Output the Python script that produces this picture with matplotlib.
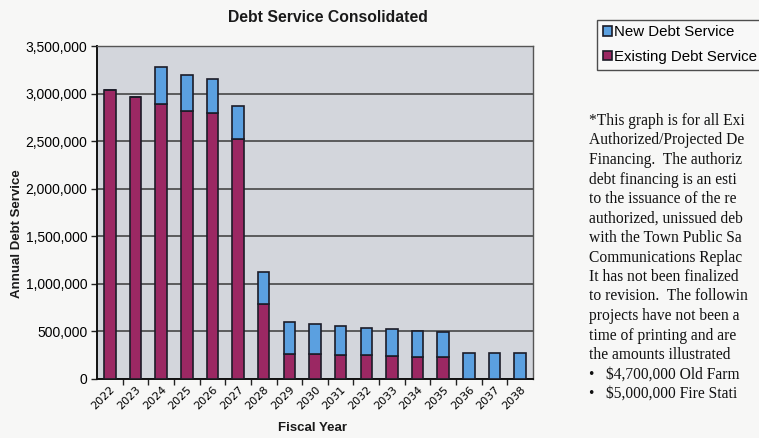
import matplotlib.pyplot as plt
from matplotlib.patches import Patch
from matplotlib.ticker import FuncFormatter

years = [str(y) for y in range(2022, 2039)]
existing = [3040000, 2968000, 2894000, 2820000, 2792000, 2518000, 791000,
            268000, 265000, 254000, 247000, 237000, 226000, 226000, 0, 0, 0]
new_debt = [0, 0, 381000, 374000, 363000, 352000, 331000,
            328000, 313000, 300000, 293000, 286000, 279000, 272000,
            272000, 272000, 270000]

note_lines = [
    "*This graph is for all Exi",
    "Authorized/Projected De",
    "Financing.  The authoriz",
    "debt financing is an esti",
    "to the issuance of the re",
    "authorized, unissued deb",
    "with the Town Public Sa",
    "Communications Replac",
    "It has not been finalized",
    "to revision.  The followin",
    "projects have not been a",
    "time of printing and are",
    "the amounts illustrated",
    "\u2022   $4,700,000 Old Farm",
    "\u2022   $5,000,000 Fire Stati",
]

maroon = "#9b2863"
blue = "#5ba0e0"
edge = "#1c1c28"

W, H = 759, 438
fig = plt.figure(figsize=(W / 100, H / 100), dpi=100, facecolor="#f7f7f6")
ax = fig.add_axes([97 / W, 1 - 379 / H, (533 - 97) / W, (379 - 46) / H])
ax.set_facecolor("#d3d6dc")

x = range(len(years))
ax.bar(x, existing, width=0.45, color=maroon, edgecolor=edge, linewidth=1.2, zorder=3)
ax.bar(x, new_debt, bottom=existing, width=0.45, color=blue, edgecolor=edge,
       linewidth=1.2, zorder=3)

ax.set_xlim(-0.5, len(years) - 0.5)
ax.set_ylim(0, 3500000)
ax.set_yticks(range(0, 3500001, 500000))
ax.yaxis.set_major_formatter(FuncFormatter(lambda v, p: f"{int(v):,}"))
ax.grid(axis="y", color="#3a3a3a", linewidth=1.1, zorder=1)
ax.set_axisbelow(True)

ax.set_xticks(list(x))
ax.set_xticklabels(years, rotation=45, ha="right", va="top", fontsize=8,
                   rotation_mode="anchor")
ax.tick_params(axis="x", length=0, pad=4)
ax.set_xticks([i + 0.5 for i in x][:-1], minor=True)
ax.tick_params(axis="x", which="minor", length=4, width=1, color="#222222")
ax.tick_params(axis="y", labelsize=10, length=4, width=1, color="#222222", pad=3)
for lab in ax.get_yticklabels():
    lab.set_fontfamily("Liberation Sans")

for s in ["left", "bottom"]:
    ax.spines[s].set_color("#111111")
    ax.spines[s].set_linewidth(1.4)
for s in ["top", "right"]:
    ax.spines[s].set_color("#555555")
    ax.spines[s].set_linewidth(1.0)

fig.text(328 / W, 1 - 17 / H, "Debt Service Consolidated", ha="center", va="center",
         fontsize=11.3, fontweight="bold", family="Liberation Sans", color="#1a1a1a")
fig.text(17 / W, 1 - 234 / H, "Annual Debt Service", ha="center", va="center",
         rotation=90, fontsize=9.5, fontweight="bold", family="Liberation Sans",
         color="#1a1a1a")
fig.text(312 / W, 1 - 428 / H, "Fiscal Year", ha="center", va="center",
         fontsize=9.5, fontweight="bold", family="Liberation Sans", color="#1a1a1a")

handles = [Patch(facecolor=blue, edgecolor=edge, linewidth=1.2, label="New Debt Service"),
           Patch(facecolor=maroon, edgecolor=edge, linewidth=1.2, label="Existing Debt Service")]
leg = fig.legend(handles=handles, loc="upper left", bbox_to_anchor=(589 / W, 1 - 12 / H),
                 frameon=True, fancybox=False, handlelength=0.6, handleheight=0.6,
                 handletextpad=0.2, borderpad=0.4, labelspacing=0.7,
                 prop={"family": "Liberation Sans", "size": 10.8})
leg.get_frame().set_edgecolor("#222222")
leg.get_frame().set_linewidth(1.0)
leg.get_frame().set_facecolor("#f9f9f9")

for i, line in enumerate(note_lines):
    fig.text(589 / W, 1 - (121 + i * 19.5) / H, line, ha="left", va="center",
             fontsize=11.2, family="Liberation Serif", color="#111111")

fig.savefig("out.png", dpi=100, facecolor=fig.get_facecolor())
